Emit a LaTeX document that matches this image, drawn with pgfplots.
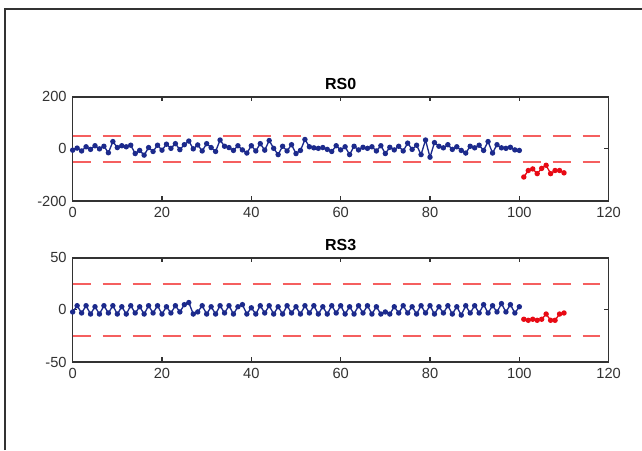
\documentclass[border=0pt]{standalone}
\usepackage{pgfplots}
\pgfplotsset{compat=1.18}
\usepackage{pgfplotstable}
\usepackage{fontspec}
\setmainfont{Liberation Sans}

\definecolor{mblue}{RGB}{28,42,140}
\definecolor{mred}{RGB}{232,10,20}
\definecolor{limred}{RGB}{245,95,95}
\definecolor{axgray}{RGB}{50,50,50}

% RS0 residuals, in control (blue) and out of control (red)
\pgfplotstableread{
x y
0 -5
1 3
2 -8
3 8
4 -2
5 12
6 0
7 10
8 -15
9 28
10 5
11 12
12 8
13 14
14 -18
15 -6
16 -24
17 5
18 -10
19 14
20 -5
21 18
22 2
23 20
24 -3
25 16
26 30
27 0
28 15
29 -8
30 20
31 5
32 -10
33 34
34 10
35 5
36 -6
37 12
38 -4
39 -16
40 12
41 -8
42 20
43 -5
44 32
45 2
46 -22
47 10
48 -8
49 16
50 -18
51 -6
52 36
53 8
54 4
55 2
56 5
57 -2
58 -10
59 12
60 -4
61 8
62 -22
63 10
64 -4
65 6
66 2
67 8
68 -8
69 12
70 -18
71 6
72 -4
73 10
74 -8
75 22
76 -2
77 14
78 -22
79 34
80 -32
81 24
82 10
83 4
84 16
85 -2
86 8
87 -6
88 -16
89 10
90 4
91 14
92 -6
93 28
94 -16
95 16
96 4
97 2
98 6
99 -4
100 -6
}\rsoblue
\pgfplotstableread{
x y
101 -108
102 -83
103 -77
104 -95
105 -75
106 -63
107 -95
108 -83
109 -83
110 -92
}\rsored

% RS3
\pgfplotstableread{
x y
0 -2
1 4
2 -3
3 4
4 -4
5 3
6 -4
7 4
8 -3
9 4
10 -4
11 3
12 -4
13 4
14 -3
15 3
16 -4
17 4
18 -3
19 4
20 -4
21 3
22 -3
23 4
24 -2
25 5
26 7
27 -4
28 -2
29 4
30 -4
31 3
32 -4
33 4
34 -3
35 4
36 -4
37 3
38 5
39 -4
40 2
41 -4
42 4
43 -3
44 4
45 -4
46 3
47 -4
48 4
49 -3
50 3
51 -4
52 4
53 -3
54 4
55 -4
56 3
57 -4
58 4
59 -3
60 4
61 -4
62 3
63 -4
64 4
65 -3
66 4
67 -4
68 3
69 -4
70 -2
71 -4
72 3
73 -3
74 4
75 -3
76 3
77 -4
78 4
79 -3
80 4
81 -4
82 3
83 -3
84 4
85 -4
86 3
87 -5
88 4
89 -3
90 4
91 -3
92 5
93 -3
94 4
95 -2
96 6
97 -2
98 5
99 -3
100 3
}\rsthblue
\pgfplotstableread{
x y
101 -9
102 -10
103 -9
104 -10
105 -9
106 -4
107 -10
108 -10
109 -4
110 -3
}\rsthred

\pgfplotsset{
  mstyle/.style={
    scale only axis,
    width=402pt, height=78.2pt,
    anchor=south west,
    xmin=0, xmax=120,
    xtick={0,20,...,120},
    axis line style={axgray, line width=1.2pt},
    tick style={axgray, line width=0.9pt},
    tick align=inside,
    major tick length=3.5pt,
    ticklabel style={font=\fontsize{11}{12}\selectfont, text=axgray},
    /pgf/number format/assume math mode=true,
    xticklabel style={yshift=-1pt},
    yticklabel style={xshift=-1pt},
    title style={font=\fontsize{12}{13}\selectfont\bfseries, yshift=-4pt},
    clip=false,
  },
  blueline/.style={mblue, line width=1pt, mark=*, mark size=1.5pt},
  redline/.style={mred, line width=1pt, mark=*, mark size=1.5pt},
  limline/.style={limred, line width=1.3pt, dash pattern=on 13.5pt off 9pt},
}

\begin{document}
\begin{tikzpicture}
\useasboundingbox (0pt,0pt) rectangle (481.5pt,337.5pt);
\draw[axgray, line width=1.1pt] (3.75pt,0pt) -- (3.75pt,330.75pt) -- (481.5pt,330.75pt);

\begin{axis}[mstyle, at={(54.5pt,186.75pt)},
  ymin=-200, ymax=200, ytick={-200,0,200},
  title={RS0}]
\addplot[limline] coordinates {(0,50) (118,50)};
\addplot[limline] coordinates {(0,-50) (118,-50)};
\addplot[blueline] table[x=x,y=y] {\rsoblue};
\addplot[redline] table[x=x,y=y] {\rsored};
\end{axis}

\begin{axis}[mstyle, at={(54.5pt,66pt)},
  ymin=-50, ymax=50, ytick={-50,0,50},
  title={RS3}]
\addplot[limline] coordinates {(0,25) (118,25)};
\addplot[limline] coordinates {(0,-25) (118,-25)};
\addplot[blueline] table[x=x,y=y] {\rsthblue};
\addplot[redline] table[x=x,y=y] {\rsthred};
\end{axis}
\end{tikzpicture}
\end{document}
